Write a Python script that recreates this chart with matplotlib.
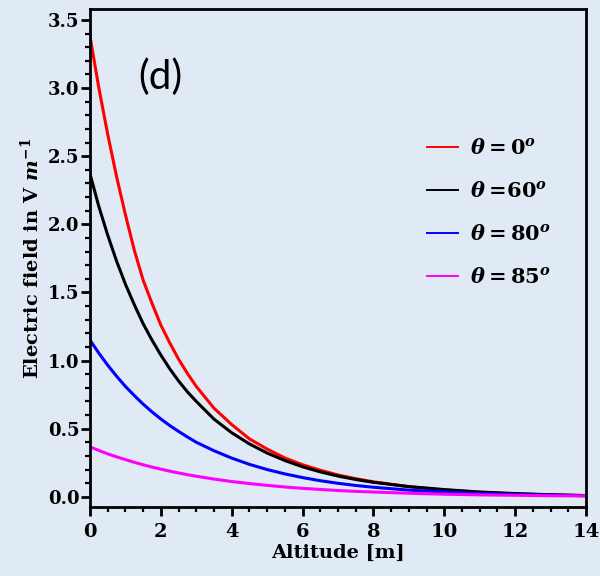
import matplotlib
matplotlib.use("Agg")
import matplotlib.pyplot as plt
from matplotlib.ticker import MultipleLocator

# altitude samples (m)
altitude = [0, 0.25, 0.5, 0.75, 1, 1.25, 1.5, 1.75, 2, 2.25, 2.5, 2.75, 3,
            3.5, 4, 4.5, 5, 5.5, 6, 6.5, 7, 7.5, 8, 9, 10, 11, 12, 13, 14]

# electric field (V/m)
field_0 = [3.38, 3.00, 2.66, 2.35, 2.07, 1.81, 1.59, 1.42, 1.26, 1.13, 1.01,
           0.905, 0.81, 0.65, 0.53, 0.425, 0.35, 0.285, 0.235, 0.195, 0.16,
           0.133, 0.11, 0.074, 0.05, 0.033, 0.021, 0.014, 0.009]
field_60 = [2.37, 2.13, 1.92, 1.73, 1.56, 1.41, 1.27, 1.15, 1.04, 0.94, 0.85,
            0.77, 0.70, 0.57, 0.47, 0.388, 0.321, 0.266, 0.22, 0.183, 0.152,
            0.127, 0.106, 0.075, 0.053, 0.035, 0.024, 0.015, 0.009]
field_80 = [1.15, 1.054, 0.966, 0.885, 0.81, 0.743, 0.68, 0.623, 0.571, 0.523,
            0.48, 0.439, 0.40, 0.338, 0.284, 0.238, 0.20, 0.168, 0.141, 0.118,
            0.099, 0.083, 0.07, 0.049, 0.035, 0.024, 0.017, 0.012, 0.008]
field_85 = [0.366, 0.34, 0.315, 0.293, 0.273, 0.253, 0.235, 0.218, 0.203, 0.188,
            0.175, 0.162, 0.151, 0.13, 0.112, 0.097, 0.084, 0.072, 0.062, 0.054,
            0.046, 0.04, 0.035, 0.026, 0.019, 0.014, 0.011, 0.008, 0.006]

series = [
    (field_0, "red", r"$\theta = 0^o$"),
    (field_60, "black", r"$\theta =\!60^o$"),
    (field_80, "blue", r"$\theta = 80^o$"),
    (field_85, "magenta", r"$\theta = 85^o$"),
]

plt.rcParams["mathtext.fontset"] = "custom"
plt.rcParams["mathtext.rm"] = "DejaVu Serif:bold"
plt.rcParams["mathtext.it"] = "DejaVu Serif:italic:bold"
plt.rcParams["mathtext.bf"] = "DejaVu Serif:bold"

bg = "#e0eaf5"
fig = plt.figure(figsize=(6, 5.76), dpi=100, facecolor=bg)
ax = fig.add_axes([0.15, 0.12, 0.8267, 0.8644])
ax.set_facecolor("none")

for values, color, label in series:
    ax.plot(altitude, values, color=color, lw=2.2, label=label)

ax.set_xlim(0, 14)
ax.set_ylim(-0.074, 3.58)
ax.xaxis.set_major_locator(MultipleLocator(2))
ax.xaxis.set_minor_locator(MultipleLocator(0.5))
ax.yaxis.set_major_locator(MultipleLocator(0.5))
ax.yaxis.set_minor_locator(MultipleLocator(0.1))

for s in ax.spines.values():
    s.set_linewidth(2.0)
ax.tick_params(which="major", direction="out", length=6.5, width=2.0)
ax.tick_params(which="minor", direction="out", length=3.5, width=1.6)
ax.tick_params(axis="y", which="major", pad=1)
ax.tick_params(axis="x", which="major", pad=5)

for lab in ax.get_xticklabels():
    lab.set_fontfamily("DejaVu Serif")
    lab.set_fontweight("bold")
    lab.set_fontsize(14)
for lab in ax.get_yticklabels():
    lab.set_fontfamily("DejaVu Serif")
    lab.set_fontweight("bold")
    lab.set_fontsize(13)

ax.set_xlabel("Altitude [m]", fontfamily="DejaVu Serif", fontweight="bold",
              fontsize=14, labelpad=2)
ax.set_ylabel(r"Electric field in V $m^{-1}$", fontfamily="DejaVu Serif",
              fontweight="bold", fontsize=14, labelpad=4)

ax.text(1.98, 3.08, "(d)", fontfamily="Lato", fontsize=29,
        ha="center", va="center")

leg = ax.legend(loc="upper left", bbox_to_anchor=(0.68, 0.74), frameon=False,
                fontsize=15, handlelength=1.45, handletextpad=0.6,
                labelspacing=1.1, borderpad=0, borderaxespad=0)
for h in leg.get_lines():
    h.set_linewidth(1.4)

fig.savefig("out.png", dpi=100, facecolor=bg)
